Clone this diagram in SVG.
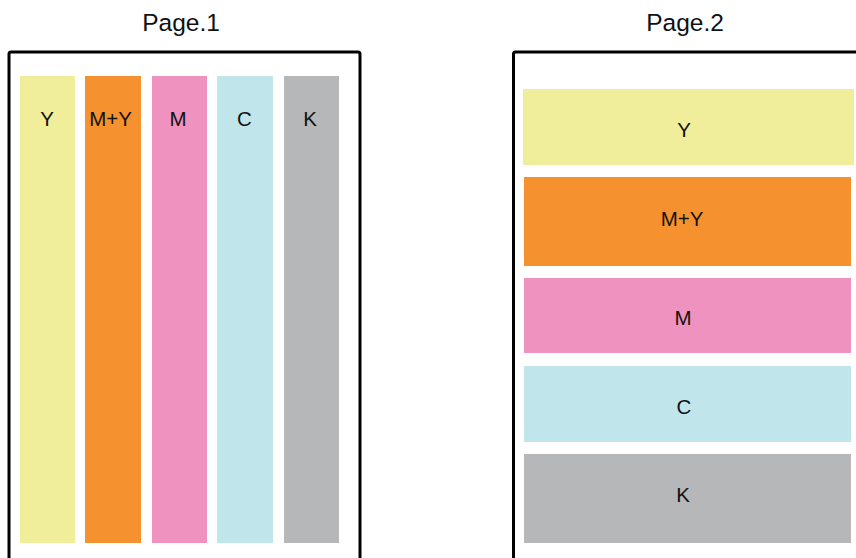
<svg xmlns="http://www.w3.org/2000/svg" width="856" height="558" viewBox="0 0 856 558">
<style>
.t{font-family:"Liberation Sans",Arial,sans-serif;font-size:20.5px;fill:#111;text-anchor:middle}
.title{font-family:"Liberation Sans",Arial,sans-serif;font-size:24.5px;fill:#111;text-anchor:middle}
.frame{fill:#fff;stroke:#000;stroke-width:3;stroke-linejoin:round}
.y{fill:#f0ee9a}.my{fill:#f6912f}.m{fill:#ef92bf}.c{fill:#c0e5eb}.k{fill:#b6b7b9}
</style>
<rect width="856" height="558" fill="#fff"/>
<g id="page1">
<text class="title" x="181" y="31">Page.1</text>
<rect class="frame" x="9" y="52" width="351" height="520" rx="2"/>
<g id="p1-Y"><rect class="y" x="20" y="76" width="55" height="467"/><text class="t" x="47" y="126">Y</text></g>
<g id="p1-MY"><rect class="my" x="85" y="76" width="56" height="467"/><text class="t" x="110.5" y="126">M+Y</text></g>
<g id="p1-M"><rect class="m" x="152" y="76" width="55" height="467"/><text class="t" x="178" y="126">M</text></g>
<g id="p1-C"><rect class="c" x="217" y="76" width="56" height="467"/><text class="t" x="244.5" y="126">C</text></g>
<g id="p1-K"><rect class="k" x="284" y="76" width="55" height="467"/><text class="t" x="310" y="126">K</text></g>
</g>
<g id="page2">
<text class="title" x="685" y="31">Page.2</text>
<rect class="frame" x="513.5" y="52" width="400" height="520" rx="2"/>
<g id="p2-Y"><rect class="y" x="523" y="89" width="331" height="76"/><text class="t" x="684" y="136.5">Y</text></g>
<g id="p2-MY"><rect class="my" x="524" y="177" width="327" height="89"/><text class="t" x="682" y="226">M+Y</text></g>
<g id="p2-M"><rect class="m" x="524" y="278" width="327" height="75"/><text class="t" x="683" y="325">M</text></g>
<g id="p2-C"><rect class="c" x="524" y="366" width="327" height="76"/><text class="t" x="684" y="414">C</text></g>
<g id="p2-K"><rect class="k" x="524" y="454" width="327" height="89"/><text class="t" x="683" y="502">K</text></g>
</g>
</svg>
